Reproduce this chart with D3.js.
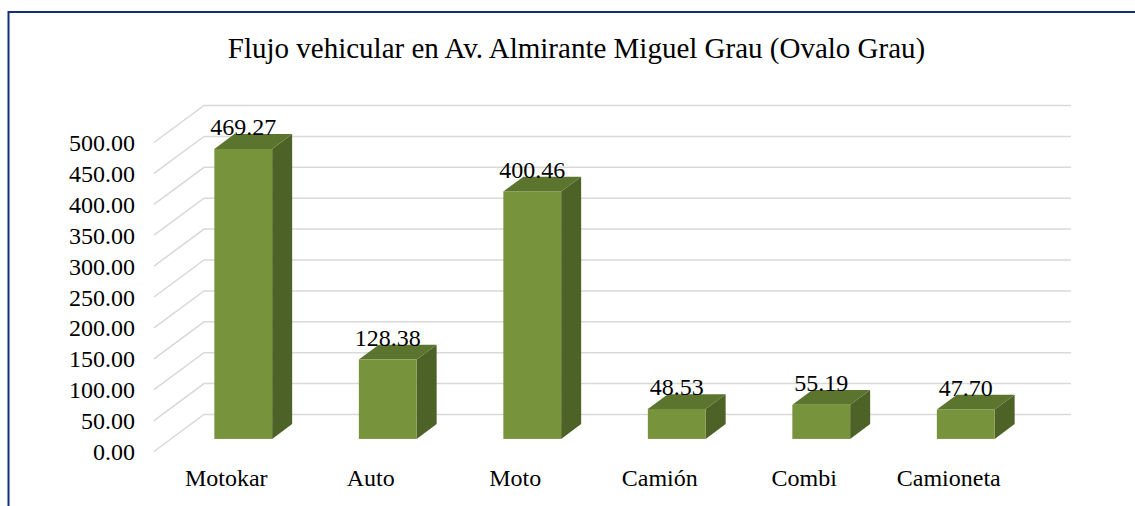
<!DOCTYPE html>
<html>
<head>
<meta charset="utf-8">
<script src="https://cdn.jsdelivr.net/npm/d3@7"></script>
<style>
  html, body { margin: 0; padding: 0; background: #fff; overflow: hidden; }
  text { font-family: "Liberation Serif", "Times New Roman", serif; fill: #000; }
</style>
</head>
<body>
<div id="chart"></div>
<script>
// chart data
var categories = ["Motokar", "Auto", "Moto", "Camión", "Combi", "Camioneta"];
var values = [469.27, 128.38, 400.46, 48.53, 55.19, 47.70];
var yTicks = [0, 50, 100, 150, 200, 250, 300, 350, 400, 450, 500];
var title = "Flujo vehicular en Av. Almirante Miguel Grau (Ovalo Grau)";

var W = 1135, H = 506;
var depth = { dx: 50, dy: -37 };       // total depth of the 3d box
var barDepth = [0.34, 0.74];           // bar sits between these fractions of depth

var svg = d3.select("#chart").append("svg").attr("width", W).attr("height", H);

// outer frame (runs past the bottom / right edge like the original)
svg.append("rect").attr("x", 8.5).attr("y", 12).attr("width", W + 20).attr("height", H + 20)
  .attr("fill", "none").attr("stroke", "#12307a").attr("stroke-width", 2);

svg.append("text").attr("x", 576.5).attr("y", 58).attr("text-anchor", "middle")
  .style("font-size", "29px").text(title);

var x = d3.scaleBand().domain(categories).range([154, 1021]).padding(0);
var y = d3.scaleLinear().domain([0, 500]).range([451.5, 142.5]);

// gridlines: diagonal on the left wall, horizontal on the back wall
var grid = svg.append("g").attr("stroke", "#d9d9d9").attr("stroke-width", 1.5).attr("fill", "none");
yTicks.forEach(function (t) {
  var x0 = x.range()[0], x1 = x.range()[1];
  grid.append("path").attr("d", d3.line()([
    [x0, y(t)], [x0 + depth.dx, y(t) + depth.dy], [x1 + depth.dx, y(t) + depth.dy]
  ]));
});

// y labels
svg.append("g").selectAll("text").data(yTicks).join("text")
  .attr("x", 135).attr("y", function (d) { return y(d) + 8.5; })
  .attr("text-anchor", "end").style("font-size", "24px")
  .text(function (d) { return d3.format(".2f")(d); });

// category labels
svg.append("g").selectAll("text").data(categories).join("text")
  .attr("x", function (d) { return x(d) + x.bandwidth() / 2; }).attr("y", 486)
  .attr("text-anchor", "middle").style("font-size", "24px")
  .text(function (d) { return d; });

// bars
var bw = x.bandwidth() * 0.4;
var f = { dx: depth.dx * barDepth[0], dy: depth.dy * barDepth[0] };
var b = { dx: depth.dx * barDepth[1], dy: depth.dy * barDepth[1] };

var bars = svg.append("g").selectAll("g").data(categories).join("g");
bars.each(function (c, i) {
  var g = d3.select(this);
  var l = x(c) + (x.bandwidth() - bw) / 2 + f.dx, r = l + bw;
  var bot = y(0) + f.dy, top = y(values[i]) + f.dy;
  var ddx = b.dx - f.dx, ddy = b.dy - f.dy;
  // side face
  g.append("path").attr("fill", "#4d6227").attr("d", d3.line()([
    [r, top], [r + ddx, top + ddy], [r + ddx, bot + ddy], [r, bot]
  ]) + "Z");
  // top face
  g.append("path").attr("fill", "#5b752f").attr("d", d3.line()([
    [l, top], [l + ddx, top + ddy], [r + ddx, top + ddy], [r, top]
  ]) + "Z");
  // front face
  g.append("rect").attr("x", l).attr("y", top).attr("width", bw).attr("height", bot - top)
    .attr("fill", "#77933c");
  // value label
  g.append("text").attr("x", (l + r) / 2).attr("y", top + ddy + 1)
    .attr("text-anchor", "middle").style("font-size", "24px")
    .text(d3.format(".2f")(values[i]));
});
</script>
</body>
</html>
